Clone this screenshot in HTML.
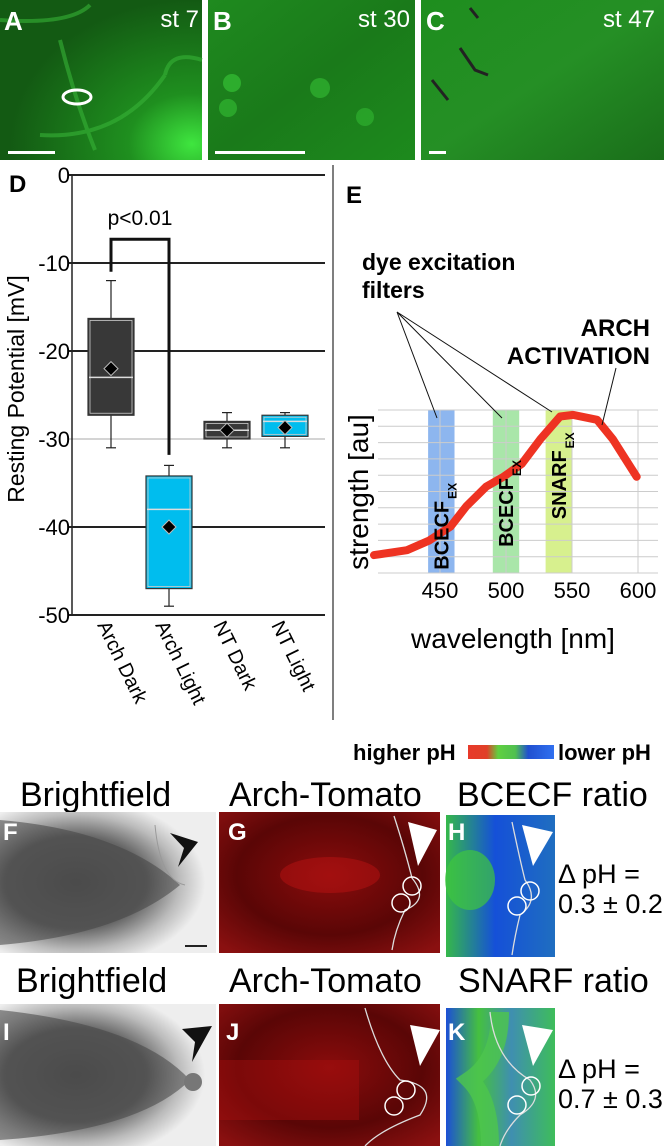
<!DOCTYPE html>
<html><head><meta charset="utf-8">
<style>
body{margin:0;background:#fff;width:664px;height:1146px;overflow:hidden;font-family:"Liberation Sans",sans-serif}
svg{display:block}
</style></head>
<body>
<svg id="fig" width="664" height="1146" viewBox="0 0 664 1146" xmlns="http://www.w3.org/2000/svg" font-family="Liberation Sans, sans-serif">
<defs>
 <radialGradient id="gA" cx="0.95" cy="0.9" r="0.9"><stop offset="0" stop-color="#3fe63f"/><stop offset="0.35" stop-color="#1f8f1f"/><stop offset="1" stop-color="#135a13"/></radialGradient>
 <linearGradient id="gB" x1="0" y1="0" x2="1" y2="1"><stop offset="0" stop-color="#1f8a1f"/><stop offset="0.5" stop-color="#1a7a1a"/><stop offset="1" stop-color="#1d8a1d"/></linearGradient>
 <linearGradient id="gC" x1="0" y1="0" x2="1" y2="1"><stop offset="0" stop-color="#1e8e1e"/><stop offset="0.5" stop-color="#258f25"/><stop offset="1" stop-color="#1a6e1a"/></linearGradient>
 <radialGradient id="gF" cx="0.35" cy="0.5" r="0.6"><stop offset="0" stop-color="#555"/><stop offset="0.55" stop-color="#666"/><stop offset="0.8" stop-color="#bbb"/><stop offset="1" stop-color="#eee"/></radialGradient>
 <radialGradient id="gG" cx="0.5" cy="0.45" r="0.7"><stop offset="0" stop-color="#8a0c0c"/><stop offset="0.6" stop-color="#5a0606"/><stop offset="1" stop-color="#8a1010"/></radialGradient>
 <linearGradient id="gH" x1="0" y1="0" x2="1" y2="0"><stop offset="0" stop-color="#35b84a"/><stop offset="0.45" stop-color="#1550d8"/><stop offset="1" stop-color="#1f6ec0"/></linearGradient>
 <linearGradient id="gK" x1="0" y1="0" x2="1" y2="0"><stop offset="0" stop-color="#1c4fd6"/><stop offset="0.3" stop-color="#45c040"/><stop offset="0.6" stop-color="#3f8fb0"/><stop offset="1" stop-color="#3ebd5a"/></linearGradient>
 <linearGradient id="gPH" x1="0" y1="0" x2="1" y2="0"><stop offset="0" stop-color="#e83a2a"/><stop offset="0.22" stop-color="#e04028"/><stop offset="0.35" stop-color="#60d040"/><stop offset="0.55" stop-color="#50c050"/><stop offset="0.7" stop-color="#2050d0"/><stop offset="1" stop-color="#3070f0"/></linearGradient>
</defs>

<g>
 <rect x="0" y="0" width="202" height="160" fill="url(#gA)"/>
 <path d="M0,20 Q70,25 90,5 M60,40 Q75,100 95,150 M40,135 Q120,140 165,75 M165,75 Q170,50 202,60" stroke="#37b337" stroke-width="4" fill="none" opacity="0.6"/>
 <ellipse cx="77" cy="97" rx="14" ry="7" fill="none" stroke="#fff" stroke-width="3"/>
 <text x="4" y="30" font-size="26" font-weight="bold" fill="#fff">A</text>
 <text x="199" y="27" font-size="24" fill="#fff" text-anchor="end">st 7</text>
 <rect x="8" y="151" width="47" height="3" fill="#fff"/>
</g>
<g>
 <rect x="208" y="0" width="207" height="160" fill="url(#gB)"/>
 <circle cx="232" cy="83" r="9" fill="#35c035" opacity="0.7"/><circle cx="320" cy="88" r="10" fill="#35c035" opacity="0.6"/><circle cx="228" cy="108" r="9" fill="#35c035" opacity="0.6"/><circle cx="365" cy="117" r="9" fill="#32b832" opacity="0.6"/>
 <text x="213" y="30" font-size="26" font-weight="bold" fill="#fff">B</text>
 <text x="410" y="27" font-size="24" fill="#fff" text-anchor="end">st 30</text>
 <rect x="215" y="151" width="90" height="3" fill="#fff"/>
</g>
<g>
 <rect x="421" y="0" width="243" height="160" fill="url(#gC)"/>
 <path d="M460,48 L475,70 L488,75 M470,8 L478,18 M432,80 L448,100" stroke="#222" stroke-width="3" fill="none"/>
 <text x="426" y="30" font-size="26" font-weight="bold" fill="#fff">C</text>
 <text x="655" y="27" font-size="24" fill="#fff" text-anchor="end">st 47</text>
 <rect x="429" y="151" width="17" height="3" fill="#fff"/>
</g>

<g id="chartD">
 <text x="9" y="192" font-size="24" font-weight="bold">D</text>
 <text transform="translate(24,389) rotate(-90)" font-size="23" text-anchor="middle">Resting Potential [mV]</text>
 <line x1="333" y1="165" x2="333" y2="720" stroke="#555" stroke-width="1.5"/>
</g>

<g id="chartE">
 <text x="346" y="203" font-size="24" font-weight="bold">E</text>
 <text x="362" y="270" font-size="23" font-weight="bold">dye excitation</text>
 <text x="362" y="298" font-size="23" font-weight="bold">filters</text>
 <text x="650" y="336" font-size="24" font-weight="bold" text-anchor="end">ARCH</text>
 <text x="650" y="364" font-size="24" font-weight="bold" text-anchor="end">ACTIVATION</text>
 <text transform="translate(368,492) rotate(-90)" font-size="28" text-anchor="middle">strength [au]</text>
 <text x="513" y="648" font-size="28" text-anchor="middle">wavelength [nm]</text>
</g>

<g>
 <text x="353" y="760" font-size="22" font-weight="bold">higher pH</text>
 <rect x="468" y="745" width="86" height="14" fill="url(#gPH)"/>
 <text x="558" y="760" font-size="22" font-weight="bold">lower pH</text>
</g>

<g font-size="34">
 <text x="20" y="806">Brightfield</text>
 <text x="229" y="806">Arch-Tomato</text>
 <text x="457" y="806">BCECF ratio</text>
</g>
<g>
 <rect x="0" y="812" width="216" height="141" fill="url(#gF)"/>
 <path d="M0,820 Q120,830 180,885 Q120,935 0,945 Z" fill="#444" opacity="0.55"/>
 <path d="M155,825 Q160,880 185,885" stroke="#999" fill="none"/>
 <path d="M170,833 L198,842 L178,867 L184,848 Z" fill="#111"/>
 <rect x="185" y="945" width="22" height="2" fill="#222"/>
 <text x="3" y="840" font-size="24" font-weight="bold" fill="#fff">F</text>
</g>
<g>
 <rect x="219" y="812" width="221" height="141" fill="url(#gG)"/>
 <ellipse cx="330" cy="875" rx="50" ry="18" fill="#c01515" opacity="0.45"/>
 <path d="M394,816 Q405,850 412,878 Q430,900 405,910 Q395,930 392,950" stroke="#ddd" stroke-width="1.3" fill="none"/>
 <circle cx="412" cy="886" r="9" fill="none" stroke="#fff" stroke-width="1.5"/><circle cx="401" cy="903" r="9" fill="none" stroke="#fff" stroke-width="1.5"/>
 <path d="M408,822 L437,830 L418,866 Z" fill="#fff"/>
 <text x="228" y="840" font-size="24" font-weight="bold" fill="#fff">G</text>
</g>
<g>
 <rect x="446" y="815" width="109" height="142" fill="url(#gH)"/>
 <ellipse cx="470" cy="880" rx="25" ry="30" fill="#3ec63e" opacity="0.7"/>
 <path d="M512,822 Q520,860 525,880 Q540,900 520,915 Q515,935 512,955" stroke="#ddd" stroke-width="1.3" fill="none"/>
 <circle cx="530" cy="891" r="9" fill="none" stroke="#fff" stroke-width="1.5"/><circle cx="517" cy="906" r="9" fill="none" stroke="#fff" stroke-width="1.5"/>
 <path d="M522,825 L553,832 L533,866 Z" fill="#fff"/>
 <text x="448" y="840" font-size="24" font-weight="bold" fill="#fff">H</text>
</g>
<text x="558" y="883" font-size="27">Δ pH =</text>
<text x="558" y="913" font-size="27">0.3 ± 0.2</text>

<g font-size="34">
 <text x="16" y="992">Brightfield</text>
 <text x="229" y="992">Arch-Tomato</text>
 <text x="458" y="992">SNARF ratio</text>
</g>
<g>
 <rect x="0" y="1004" width="216" height="142" fill="url(#gF)"/>
 <path d="M0,1010 Q140,1025 190,1080 Q140,1130 0,1140 Z" fill="#444" opacity="0.55"/>
 <circle cx="193" cy="1082" r="9" fill="#777"/>
 <path d="M182,1029 L212,1026 L192,1062 L195,1042 Z" fill="#111"/>
 <text x="3" y="1040" font-size="24" font-weight="bold" fill="#fff">I</text>
</g>
<g>
 <rect x="219" y="1004" width="221" height="142" fill="url(#gG)"/>
 <rect x="219" y="1060" width="140" height="60" fill="#b01010" opacity="0.4"/>
 <path d="M365,1008 Q380,1060 400,1080 Q440,1085 420,1115 Q380,1130 365,1146" stroke="#ddd" stroke-width="1.3" fill="none"/>
 <circle cx="406" cy="1090" r="9" fill="none" stroke="#fff" stroke-width="1.5"/><circle cx="394" cy="1106" r="9" fill="none" stroke="#fff" stroke-width="1.5"/>
 <path d="M410,1025 L440,1030 L420,1066 Z" fill="#fff"/>
 <text x="226" y="1040" font-size="24" font-weight="bold" fill="#fff">J</text>
</g>
<g>
 <rect x="446" y="1008" width="109" height="138" fill="url(#gK)"/>
 <path d="M500,1012 Q500,1060 470,1080 Q490,1100 490,1146" stroke="#4ec64e" stroke-width="18" fill="none" opacity="0.8"/>
 <path d="M490,1012 Q495,1060 530,1080 Q545,1100 520,1115 Q505,1130 500,1146" stroke="#ddd" stroke-width="1.3" fill="none"/>
 <circle cx="531" cy="1086" r="9" fill="none" stroke="#fff" stroke-width="1.5"/><circle cx="517" cy="1105" r="9" fill="none" stroke="#fff" stroke-width="1.5"/>
 <path d="M522,1025 L553,1030 L533,1066 Z" fill="#fff"/>
 <text x="448" y="1040" font-size="24" font-weight="bold" fill="#fff">K</text>
</g>
<text x="558" y="1078" font-size="27">Δ pH =</text>
<text x="558" y="1108" font-size="27">0.7 ± 0.3</text>
</svg>

<script>
// ---- Panel D data ----
const groups = ["Arch Dark", "Arch Light", "NT Dark", "NT Light"];
const whiskerHigh = [-12, -33, -27, -27];
const q3 = [-16.3, -34.2, -28, -27.3];
const median = [-23, -38, -29, -28];
const q1 = [-27.3, -47, -30, -29.7];
const whiskerLow = [-31, -49, -31, -31];
const means = [-22, -40, -29, -28.7];
const boxColors = ["#383838", "#00bdee", "#383838", "#00bdee"];
const yTicks = [0, -10, -20, -30, -40, -50];
const pLabel = "p<0.01";
const bracketTop = -7.3;
const bracketLeftEnd = -11;
const bracketRightEnd = -31.8;

// ---- Panel E data ----
const wavelengths = [400, 425, 442, 458, 470, 485, 498, 512, 526, 541, 551, 569, 581, 599];
const strength = [1.1, 1.4, 2.0, 2.85, 4.1, 5.3, 5.9, 6.7, 8.2, 9.6, 9.7, 9.4, 8.2, 5.9];
const xTicksE = [450, 500, 550, 600];
const bandStart = [441, 490, 530];
const bandEnd = [461, 510, 550];
const bandNames = ["BCECF", "BCECF", "SNARF"];
const bandColors = ["#8db6ef", "#a9e6a9", "#d7f08e"];

const NS = "http://www.w3.org/2000/svg";
function mk(tag, attrs, parent){const e=document.createElementNS(NS,tag);for(const k in attrs)e.setAttribute(k,attrs[k]);parent.appendChild(e);return e;}

const gD = document.getElementById("chartD");
const yD = v => 175 - v * 8.8;
const plotL = 72, plotR = 325, slotW = 58, firstX = 83;
const xD = i => firstX + i * slotW;
yTicks.forEach(t => {
  const ln = mk("line",{x1:plotL-4,x2:plotR,y1:yD(t),y2:yD(t),stroke:t===-30?"#aaa":"#222","stroke-width":t===-30?1:2},gD);
  
  
  const tx = mk("text",{x:plotL-2,y:yD(t)+8,"font-size":22,"text-anchor":"end"},gD);
  tx.textContent = String(t);
  
  
});
const axis = mk("line",{x1:plotL,x2:plotL,y1:yD(0),y2:yD(-50),stroke:"#222","stroke-width":1.5},gD);



groups.forEach((g,i) => {
  const x0 = xD(i) + 5, w = 46, cx = x0 + w/2;
  const wh = mk("line",{x1:cx,x2:cx,y1:yD(whiskerHigh[i]),y2:yD(whiskerLow[i]),stroke:"#222","stroke-width":1.2},gD);
  
  
  [whiskerHigh[i],whiskerLow[i]].forEach(v=>mk("line",{x1:cx-5,x2:cx+5,y1:yD(v),y2:yD(v),stroke:"#222","stroke-width":1.2},gD));
  const box = mk("rect",{x:x0,y:yD(q3[i]),width:w,height:yD(q1[i])-yD(q3[i]),fill:boxColors[i],stroke:"#333","stroke-width":1.2},gD);
  
  
  mk("rect",{x:x0+2,y:yD(q3[i])+2,width:w-4,height:Math.max(0,yD(q1[i])-yD(q3[i])-4),fill:"none",stroke:"#ccc","stroke-width":0.8},gD);
  const md = mk("line",{x1:x0+1,x2:x0+w-1,y1:yD(median[i]),y2:yD(median[i]),stroke:"#ddd","stroke-width":1.5},gD);
  
  
  const my = yD(means[i]);
  const dm = mk("polygon",{points:`${cx},${my-7} ${cx+7},${my} ${cx},${my+7} ${cx-7},${my}`,fill:"#000",stroke:"#bbb","stroke-width":1},gD);
  
  
  const lb = mk("text",{transform:`translate(${xD(i)+14},${yD(-50)+10}) rotate(64)`,"font-size":20},gD);
  lb.textContent = g;
  
  
});
const bx1 = xD(0)+28, bx2 = xD(1)+28;
const br = mk("path",{d:`M${bx1},${yD(bracketLeftEnd)} L${bx1},${yD(bracketTop)} L${bx2},${yD(bracketTop)} L${bx2},${yD(bracketRightEnd)}`,fill:"none",stroke:"#111","stroke-width":3},gD);


const pt = mk("text",{x:(bx1+bx2)/2,y:yD(bracketTop)-14,"font-size":21,"text-anchor":"middle"},gD);
pt.textContent = pLabel;



const gE = document.getElementById("chartE");
const xE = l => 506 + (l - 500) * 1.32;
const yE = s => 573 - s * 16.3;
const eL = 378, eR = 658;
bandNames.forEach((n,i)=>{
  const r = mk("rect",{x:xE(bandStart[i]),y:yE(10),width:xE(bandEnd[i])-xE(bandStart[i]),height:yE(0)-yE(10),fill:bandColors[i]},gE);
  
  
});
for(let s=0;s<=10;s++){
  const l = mk("line",{x1:eL,x2:eR,y1:yE(s),y2:yE(s),stroke:"#ccc","stroke-width":1},gE);
  
  
}
xTicksE.forEach(t=>{
  const l = mk("line",{x1:xE(t),x2:xE(t),y1:yE(10),y2:yE(0),stroke:"#ccc","stroke-width":1},gE);
  
  
  const tx = mk("text",{x:xE(t),y:598,"font-size":22,"text-anchor":"middle"},gE);
  tx.textContent = String(t);
  
  
});
let d = "";
wavelengths.forEach((w,i)=>{ d += (i?" L":"M") + xE(w).toFixed(1) + "," + yE(strength[i]).toFixed(1); });
const curve = mk("path",{d:d,fill:"none",stroke:"#ee3322","stroke-width":8,"stroke-linejoin":"round","stroke-linecap":"round"},gE);


bandNames.forEach((n,i)=>{
  const cx = (xE(bandStart[i]) + xE(bandEnd[i]))/2;
  const baseY = i===2 ? yE(3.3) : (i===0 ? yE(0.2) : yE(1.6));
  const t = mk("text",{transform:`translate(${cx+7},${baseY}) rotate(-90)`,"font-size":20,"font-weight":"bold"},gE);
  t.textContent = n;
  const s = mk("tspan",{"font-size":12,dy:8,dx:2},t);
  s.textContent = "EX";
  
  
});
const lead = mk("path",{d:`M397,312 L437,418 M397,312 L502,418 M397,312 L552,412 M616,368 L602,425`,stroke:"#111","stroke-width":1,fill:"none"},gE);


</script>
</body></html>
